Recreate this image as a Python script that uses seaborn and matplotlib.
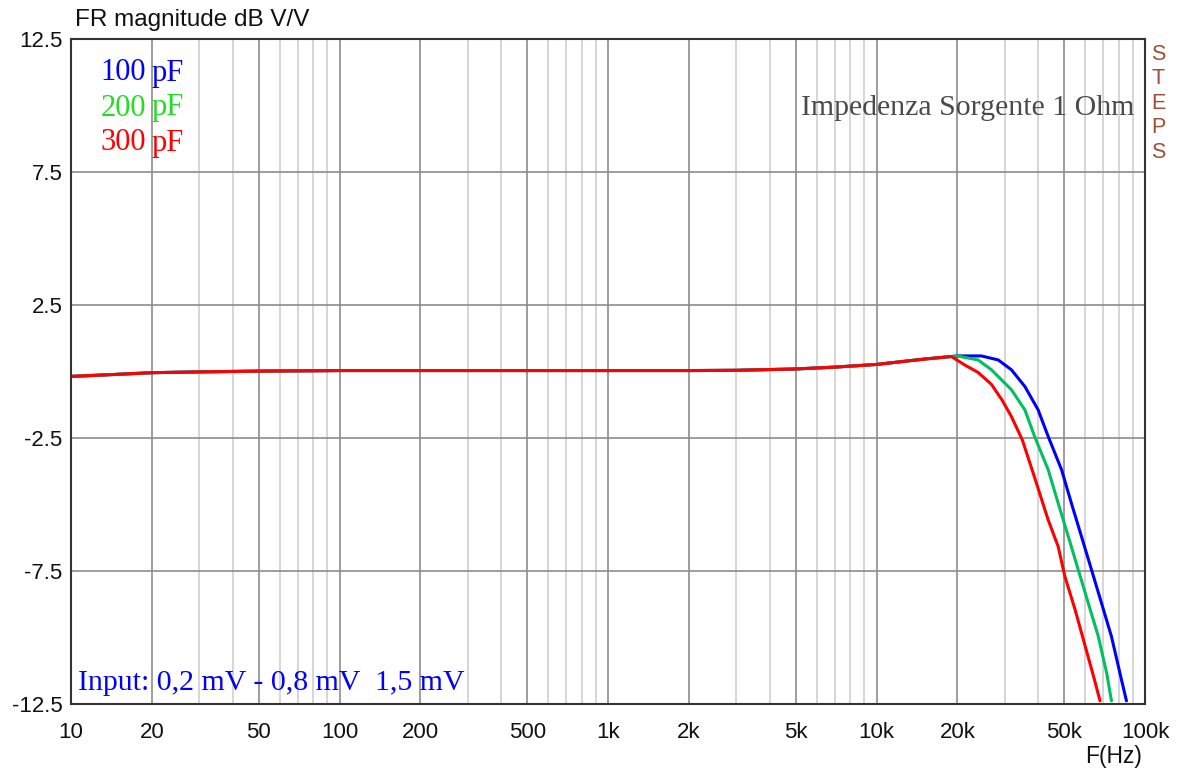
import numpy as np
import pandas as pd
import matplotlib
matplotlib.use("Agg")
import matplotlib.pyplot as plt
import seaborn as sns
from matplotlib.ticker import FixedLocator, NullFormatter

# ---- data ----
flat_f = [10, 15, 20, 30, 50, 100, 200, 500, 1000, 2000, 3000, 5000, 7000, 10000, 15000]
flat_db = [-0.20, -0.12, -0.06, -0.03, 0.0, 0.02, 0.02, 0.02, 0.02, 0.02, 0.03, 0.08, 0.15, 0.25, 0.45]

f_100 = [20000, 24600, 28400, 31800, 35700, 40000, 43600, 48900, 53200, 58000, 63200, 68900, 75000, 81700, 85300]
db_100 = [0.57, 0.57, 0.42, 0.05, -0.58, -1.46, -2.46, -3.71, -4.97, -6.22, -7.47, -8.73, -9.98, -11.6, -12.4]

f_200 = [20000, 23900, 26800, 31800, 35700, 38800, 43600, 47500, 51800, 56400, 61500, 67000, 72000, 75000]
db_200 = [0.57, 0.42, 0.05, -0.70, -1.46, -2.46, -3.71, -4.97, -6.22, -7.47, -8.73, -9.98, -11.36, -12.4]

f_300 = [19000, 21400, 23900, 26800, 29400, 31800, 34900, 38800, 43600, 47500, 50300, 54900, 59900, 64400, 68000]
db_300 = [0.55, 0.22, -0.05, -0.50, -1.10, -1.71, -2.58, -4.00, -5.60, -6.60, -7.72, -8.97, -10.35, -11.5, -12.4]

labels = ["100 pF", "200 pF", "300 pF"]
line_colors = ["#0000ff", "#00c060", "#ff0000"]
label_colors = ["#0000ff", "#22dd22", "#ff0000"]

xticks = [10, 20, 50, 100, 200, 500, 1000, 2000, 5000, 10000, 20000, 50000, 100000]
xticklabels = ["10", "20", "50", "100", "200", "500", "1k", "2k", "5k", "10k", "20k", "50k", "100k"]
yticks = [-12.5, -7.5, -2.5, 2.5, 7.5, 12.5]

rows = []
for lab, ff, dd in [(labels[0], f_100, db_100), (labels[1], f_200, db_200), (labels[2], f_300, db_300)]:
    for f, d in zip(flat_f + ff, flat_db + dd):
        rows.append({"f": f, "db": d, "cap": lab})
df = pd.DataFrame(rows)

# ---- plot ----
sns.set_style("white")
plt.rcParams['font.family'] = ['Liberation Sans', 'DejaVu Sans']

fig = plt.figure(figsize=(11.78, 7.72), dpi=100)
ax = fig.add_axes([71 / 1178, 1 - 703.5 / 772, (1145 - 71) / 1178, (703.5 - 38.7) / 772])

sns.lineplot(data=df, x="f", y="db", hue="cap", palette=dict(zip(labels, line_colors)),
             hue_order=labels, linewidth=2.2, legend=False, ax=ax, sort=True,
             estimator=None)

ax.set_xscale("log")
ax.set_xlim(10, 100000)
ax.set_ylim(-12.5, 12.5)

minor = [m * 10 ** e for e in range(1, 5) for m in range(2, 10)]
ax.xaxis.set_minor_locator(FixedLocator(minor))
ax.xaxis.set_minor_formatter(NullFormatter())
ax.set_xticks(xticks)
ax.set_xticklabels(xticklabels)
ax.set_yticks(yticks)
ax.set_yticklabels([str(v) for v in yticks])

ax.grid(which="major", color="#8c8c8c", linewidth=1.2)
ax.grid(which="minor", axis="x", color="#cfcfcf", linewidth=1.2)
ax.set_axisbelow(True)
ax.tick_params(which="both", length=0, labelsize=16, colors="#111111")
ax.tick_params(axis="x", pad=13)
ax.tick_params(axis="y", pad=6)
for s in ax.spines.values():
    s.set_color("#333333")
    s.set_linewidth(1.5)

ax.set_xlabel("")
ax.set_ylabel("")

fig.text(75 / 1178, 1 - 20 / 772, "FR magnitude dB V/V", fontsize=17.5, va="center", ha="left", color="#111111")
fig.text(1142 / 1178, 1 - 756 / 772, "F(Hz)", fontsize=16.5, va="center", ha="right", color="#111111")

for i, ch in enumerate("STEPS"):
    fig.text(1158 / 1178, 1 - (54 + i * 24.6) / 772, ch, fontsize=15.5, ha="center", va="center", color="#9b4f3a")

serif = ['Liberation Serif', 'DejaVu Serif']
for i, (lab, c) in enumerate(zip(labels, label_colors)):
    num, unit = lab.split(" ")
    fig.text(146 / 1178, 1 - (73 + i * 35) / 772, num, fontsize=22, ha="right", va="center", color=c, family=serif)
    fig.text(152 / 1178, 1 - (73 + i * 35) / 772, unit, fontsize=22, ha="left", va="center", color=c, family=serif)

fig.text(1134 / 1178, 1 - 108 / 772, "Impedenza Sorgente 1 Ohm", fontsize=21.5, ha="right", va="center",
         color="#4a4a4a", family=serif)
fig.text(78 / 1178, 1 - 683 / 772, "Input: 0,2 mV - 0,8 mV  1,5 mV", fontsize=21.5, ha="left", va="center",
         color="#0000ff", family=serif)

fig.savefig("out.png", dpi=100, facecolor="white")
